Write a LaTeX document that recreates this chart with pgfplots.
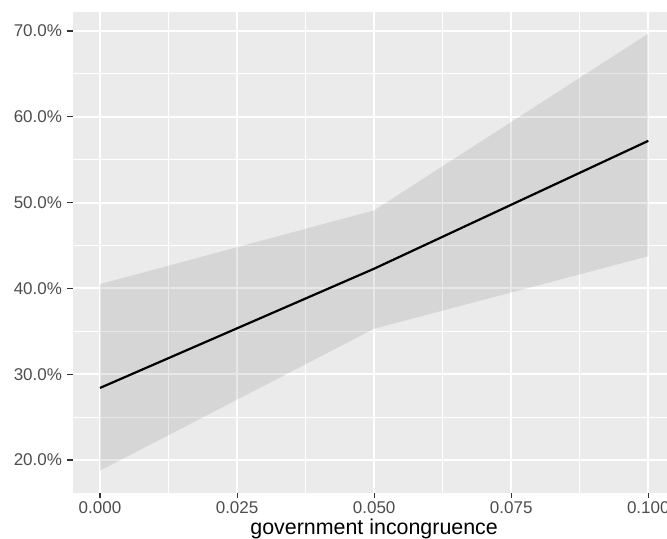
\documentclass[border=0pt]{standalone}
\usepackage{fontspec}
\setmainfont{Liberation Sans}
\usepackage{pgfplots}
\pgfplotsset{compat=1.18}
\definecolor{ggbg}{RGB}{235,235,235}
\definecolor{grey30}{RGB}{77,77,77}
\definecolor{grey20}{RGB}{51,51,51}
\begin{document}
\begin{tikzpicture}
\useasboundingbox (0,0) rectangle (333.5pt,269pt);
\clip (0,0) rectangle (333.5pt,269pt);
\begin{axis}[
  at={(36.3pt,22.75pt)}, anchor=south west,
  scale only axis, width=301.55pt, height=240.4pt,
  xmin=-0.005, xmax=0.105, ymin=16.21, ymax=72.25,
  axis background/.style={fill=ggbg},
  axis line style={draw=none},
  xtick pos=bottom, ytick pos=left,
  xtick={0,0.025,0.05,0.075,0.1},
  minor xtick={0.0125,0.0375,0.0625,0.0875},
  ytick={20,30,40,50,60,70},
  minor ytick={25,35,45,55,65},
  grid=both,
  major grid style={white, line width=1pt},
  minor grid style={white, line width=0.5pt},
  tick align=outside,
  major tick length=2.6pt, minor tick length=0pt,
  tick style={grey20, line width=0.55pt},
  /pgf/number format/assume math mode=true,
  xticklabel={\pgfmathprintnumber[fixed,fixed zerofill,precision=3]{\tick}},
  yticklabel={\pgfmathprintnumber[fixed,fixed zerofill,precision=1]{\tick}\%},
  xticklabel style={font=\fontsize{8.5}{10}\selectfont, text=grey30, anchor=north, inner sep=0pt, yshift=-2pt},
  yticklabel style={font=\fontsize{8.5}{10}\selectfont, text=grey30, anchor=east, inner sep=0pt, xshift=-2.5pt},
  scaled ticks=false,
  xlabel={government incongruence},
  xlabel style={font=\fontsize{10.7}{12}\selectfont, at={(axis description cs:0.5,0)}, anchor=center, yshift=-18pt},
]
\addplot[draw=none, fill=black!80, fill opacity=0.11] coordinates {
  (0,40.5) (0.05,49.1) (0.1,69.7) (0.1,43.75) (0.05,35.3) (0,18.76)
} -- cycle;
\addplot[black, line width=1.1pt] coordinates {
  (0,28.4) (0.05,42.3) (0.1,57.2)
};
\end{axis}
\end{tikzpicture}
\end{document}
